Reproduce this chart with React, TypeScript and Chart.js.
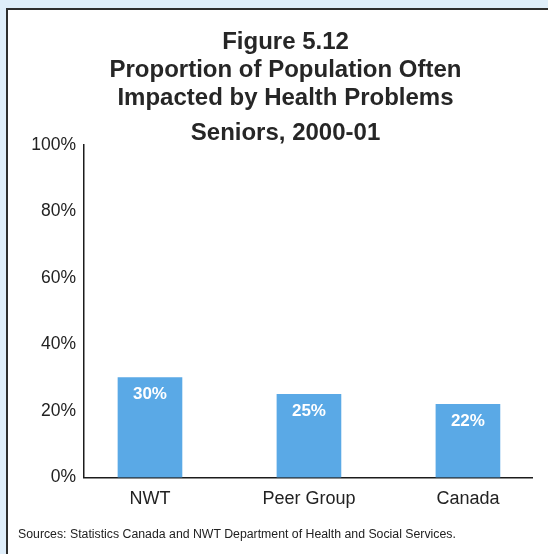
import React, { useEffect, useRef } from "react";
import { Chart, registerables } from "chart.js";

Chart.register(...registerables);

const categories = ["NWT", "Peer Group", "Canada"];
const values = [30, 25, 22];
const yTicks = [0, 20, 40, 60, 80, 100];
const titleLines = ["Figure 5.12", "Proportion of Population Often", "Impacted by Health Problems"];
const subtitleText = "Seniors, 2000-01";
const sourceText = "Sources: Statistics Canada and NWT Department of Health and Social Services.";

const FONT = "'Liberation Sans', Arial, Helvetica, sans-serif";
const BAR = "#5aa9e6";
const INK = "#222222";
const AXIS = "#1c1c1c";

const valueLabels = {
  id: "valueLabels",
  afterDatasetsDraw(chart: any) {
    const ctx = chart.ctx;
    const meta = chart.getDatasetMeta(0);
    ctx.save();
    ctx.font = `bold 17px ${FONT}`;
    ctx.fillStyle = "#ffffff";
    ctx.textAlign = "center";
    ctx.textBaseline = "middle";
    meta.data.forEach((bar: any, i: number) => {
      ctx.fillText(`${values[i]}%`, bar.x, bar.y + 17);
    });
    ctx.restore();
  },
};

export default function App() {
  const ref = useRef<HTMLCanvasElement>(null);

  useEffect(() => {
    const chart = new Chart(ref.current as HTMLCanvasElement, {
      type: "bar",
      data: {
        datasets: [
          {
            data: values.map((v, i) => ({ x: i, y: v })),
            backgroundColor: BAR,
            borderWidth: 0,
            barThickness: 64,
            yAxisID: "y",
          },
        ],
      },
      options: {
        responsive: false,
        animation: false,
        layout: { padding: { left: 30, right: 7, top: 0, bottom: 33 } },
        plugins: {
          legend: { display: false },
          tooltip: { enabled: false },
          title: {
            display: true,
            text: titleLines,
            color: "#262626",
            font: { family: FONT, size: 24, weight: "bold", lineHeight: 28 / 24 },
            padding: { top: 28, bottom: 0 },
          },
          subtitle: {
            display: true,
            text: subtitleText,
            color: "#262626",
            font: { family: FONT, size: 24, weight: "bold", lineHeight: 1 },
            padding: { top: 9, bottom: 0 },
          },
        },
        scales: {
          x: {
            type: "linear",
            min: -0.415,
            max: 2.403,
            offset: false,
            grid: { display: false, drawTicks: false },
            border: { display: true, color: AXIS, width: 1.5 },
            ticks: {
              stepSize: 1,
              includeBounds: false,
              autoSkip: false,
              maxRotation: 0,
              padding: 11,
              color: INK,
              font: { family: FONT, size: 18 },
              callback: (v: any) => categories[v] ?? "",
            },
          },
          y: {
            min: 0,
            max: 100,
            grid: { display: false, drawTicks: false },
            border: { display: true, color: AXIS, width: 1.5 },
            afterBuildTicks: (s: any) => {
              s.ticks = yTicks.map((v) => ({ value: v }));
            },
            afterFit: (s: any) => {
              s.width = 54;
            },
            ticks: {
              padding: 8,
              color: INK,
              font: { family: FONT, size: 17.5 },
              callback: (v: any) => `${v}%`,
            },
          },
          y2: {
            type: "linear",
            axis: "y",
            position: "right",
            display: true,
            grid: { display: false, drawTicks: false },
            border: { display: false },
            ticks: { display: false },
            afterFit: (s: any) => {
              s.width = 9;
            },
          },
        },
      } as any,
      plugins: [valueLabels],
    });
    return () => chart.destroy();
  }, []);

  return (
    <div
      style={{
        position: "fixed",
        left: 0,
        top: 0,
        width: 548,
        height: 554,
        background: "#dfeefa",
        overflow: "hidden",
      }}
    >
      <div
        style={{
          position: "absolute",
          left: 6,
          top: 8,
          width: 570,
          height: 570,
          background: "#ffffff",
          border: "2px solid #2e2e2e",
        }}
      />
      <canvas
        ref={ref}
        width={548}
        height={554}
        style={{ position: "absolute", left: 0, top: 0, width: 548, height: 554 }}
      />
      <div
        style={{
          position: "absolute",
          left: 18,
          top: 527,
          font: `12.3px ${FONT}`,
          color: INK,
          whiteSpace: "nowrap",
        }}
      >
        {sourceText}
      </div>
    </div>
  );
}
